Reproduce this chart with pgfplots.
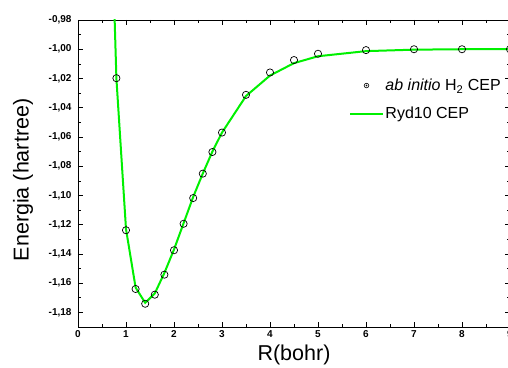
\documentclass[border=0pt]{standalone}
\usepackage{fontspec}
\setmainfont{Liberation Sans}
\usepackage{pgfplots}
\pgfplotsset{compat=1.18}
\definecolor{lgreen}{RGB}{0,240,0}
\begin{document}
\begin{tikzpicture}
\begin{axis}[
  scale only axis, width=432pt, height=307pt,
  xmin=0, xmax=9, ymin=-1.19, ymax=-0.98,
  xtick={0,1,...,9}, ytick={-1.18,-1.16,...,-0.97},
  minor x tick num=1, minor y tick num=1,
  tick align=inside, tick pos=both,
  major tick length=5pt, minor tick length=3pt,
  every tick/.style={black, line width=0.6pt},
  axis line style={line width=0.8pt},
  /pgf/number format/assume math mode=true,
  ticklabel style={font=\fontsize{10}{12}\selectfont\bfseries},
  yticklabel style={/pgf/number format/.cd, use comma, fixed, fixed zerofill, precision=2, /tikz/.cd, xshift=-3pt},
  xticklabel style={/pgf/number format/.cd, fixed, precision=0},
  xlabel={R(bohr)}, ylabel={Energia (hartree)},
  every axis x label/.style={at={(rel axis cs:0.5,0)}, anchor=center, yshift=-28pt, font=\fontsize{21.5}{24}\selectfont},
  every axis y label/.style={at={(rel axis cs:0,0.479)}, anchor=center, xshift=-55pt, rotate=90, font=\fontsize{21.5}{24}\selectfont},
  legend style={draw=none, fill=none, at={(rel axis cs:0.628,0.815)}, anchor=north west,
    font=\fontsize{16}{19}\selectfont, inner sep=0pt, row sep=11pt,
    /tikz/every even column/.append style={column sep=5pt}},
  legend cell align=left,
]
\addplot[lgreen, line width=2pt, forget plot] coordinates {
(0.75,-0.965) (0.8,-1.020) (1.0,-1.123) (1.2,-1.163) (1.4,-1.1735) (1.6,-1.167)
(1.8,-1.153) (2.0,-1.137) (2.2,-1.119) (2.4,-1.101) (2.6,-1.085) (2.8,-1.070)
(3.0,-1.057) (3.5,-1.032) (4.0,-1.018) (4.5,-1.0095) (5.0,-1.0048) (6.0,-1.0013)
(7.0,-1.0003) (8.0,-1.0) (9.0,-1.0)};
\addplot[only marks, mark=o, mark size=3.6pt, mark options={black, line width=0.7pt},
  legend image code/.code={\draw[black, line width=0.6pt] (16pt,0pt) circle (2.3pt); \fill[black] (16pt,0pt) circle (0.6pt);}]
coordinates {
(0.8,-1.0198) (1.0,-1.1238) (1.2,-1.164) (1.4,-1.1741) (1.6,-1.1679) (1.8,-1.1542)
(2.0,-1.1375) (2.2,-1.1194) (2.4,-1.1018) (2.6,-1.0851) (2.8,-1.0703) (3.0,-1.0570)
(3.5,-1.0312) (4.0,-1.0159) (4.5,-1.0074) (5.0,-1.0031) (6.0,-1.0006) (7.0,-1.0)
(8.0,-1.0) (9.0,-1.0)};
\addlegendentry{\textit{ab initio} H\textsubscript{2} CEP}
\addlegendimage{legend image code/.code={\draw[lgreen, line width=2pt] (0pt,0pt) -- (32pt,0pt);}}
\addlegendentry{Ryd10 CEP}
\end{axis}
\pgfresetboundingbox
\path[use as bounding box] ([xshift=-78pt,yshift=-41pt]current axis.south west) rectangle ([xshift=-2pt,yshift=20pt]current axis.north east);
\end{tikzpicture}
\end{document}
